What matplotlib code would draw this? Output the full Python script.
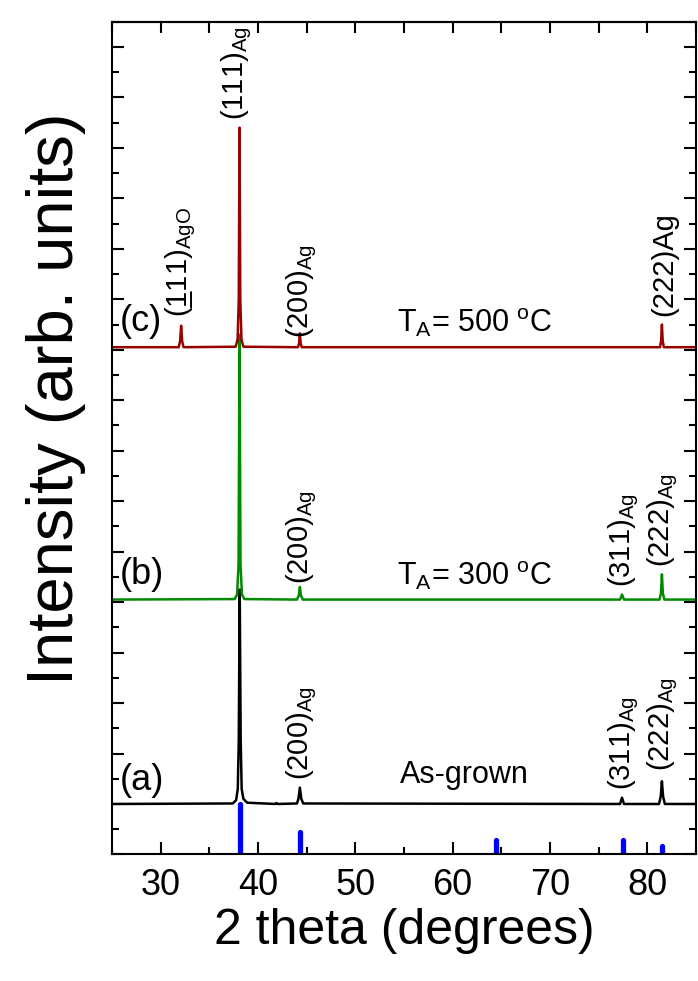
import matplotlib
matplotlib.use('Agg')
import matplotlib.pyplot as plt
from matplotlib.ticker import MultipleLocator, NullFormatter

plt.rcParams.update({
    'font.family': ['Liberation Sans', 'DejaVu Sans'],
    'mathtext.fontset': 'custom',
    'mathtext.rm': 'Liberation Sans',
    'mathtext.it': 'Liberation Sans:italic',
    'mathtext.bf': 'Liberation Sans:bold',
    'axes.linewidth': 1.5,
})

# (a) as-grown
tt_a = [25, 37.4, 37.75, 37.92, 38.02, 38.12, 38.22, 38.32, 38.5, 38.9, 41.8, 41.9, 42.0,
        44.0, 44.15, 44.3, 44.45, 44.65, 77.2, 77.4, 77.6, 81.2, 81.38, 81.5, 81.62, 81.8, 85]
int_a = [2.0, 2.02, 2.15, 2.6, 4.5, 10.5, 4.5, 2.6, 2.2, 2.05, 2.0, 2.04, 2.0,
         2.02, 2.2, 2.65, 2.2, 2.02, 2.0, 2.25, 2.0, 2.0, 2.3, 2.9, 2.3, 2.0, 2.0]

# (b) TA = 300 C
tt_b = [25, 37.6, 37.85, 38.0, 38.1, 38.2, 38.35, 38.6, 44.0, 44.18, 44.3, 44.42, 44.6,
        77.2, 77.4, 77.6, 81.25, 81.4, 81.5, 81.6, 81.75, 85]
int_b = [10.1, 10.12, 10.3, 11.5, 20.6, 11.5, 10.3, 10.12, 10.1, 10.25, 10.6, 10.25, 10.1,
         10.1, 10.3, 10.1, 10.1, 10.35, 11.1, 10.35, 10.1, 10.1]

# (c) TA = 500 C
tt_c = [25, 31.85, 32.0, 32.1, 32.2, 32.35, 37.7, 37.9, 38.02, 38.1, 38.18, 38.3, 38.5,
        44.1, 44.22, 44.3, 44.38, 44.5, 81.3, 81.42, 81.5, 81.58, 81.7, 85]
int_c = [20.1, 20.1, 20.35, 20.95, 20.35, 20.1, 20.12, 20.4, 22.0, 28.8, 22.0, 20.4, 20.12,
         20.1, 20.25, 20.65, 20.25, 20.1, 20.1, 20.35, 21.0, 20.35, 20.1, 20.1]

# reference Ag pattern (bars)
ref_pos = [38.1, 44.3, 64.5, 77.5, 81.5]
ref_h = [2.0, 0.87, 0.56, 0.59, 0.34]

# peak labels: text, x, bottom y
peak_labels = [
    (r'$\mathregular{(111)_{Ag}}$', 37.8, 29.1),
    (r'$\mathregular{(\_\hspace{-0.667}111)_{AgO}}$', 32.1, 21.3),
    (r'$\mathregular{(200)_{Ag}}$', 44.5, 20.45),
    ('(222)Ag', 81.7, 21.35),
    (r'$\mathregular{(200)_{Ag}}$', 44.5, 10.7),
    (r'$\mathregular{(311)_{Ag}}$', 77.6, 10.6),
    (r'$\mathregular{(222)_{Ag}}$', 81.6, 11.4),
    (r'$\mathregular{(200)_{Ag}}$', 44.5, 2.95),
    (r'$\mathregular{(311)_{Ag}}$', 77.6, 2.56),
    (r'$\mathregular{(222)_{Ag}}$', 81.6, 3.3),
]
curve_tags = [('(a)', 25.8, 2.92), ('(b)', 25.8, 11.09), ('(c)', 25.8, 21.13)]
sample_texts = [
    (r'$\mathregular{T_A}$= 500 $\mathregular{^oC}$', 54.3, 20.7),
    (r'$\mathregular{T_A}$= 300 $\mathregular{^oC}$', 54.3, 10.7),
    ('As-grown', 54.6, 2.85),
]

fig = plt.figure(figsize=(6.98, 9.81), dpi=100)
ax = fig.add_axes([0.1605, 0.129, 0.8366, 0.8489])

ax.plot(tt_a, int_a, color='black', lw=1.8)
ax.plot(tt_b, int_b, color='#008a00', lw=1.8)
ax.plot(tt_c, int_c, color='#990000', lw=1.8)
bars = ax.vlines(ref_pos, 0, ref_h, colors='#0000ff', lw=3.8)
bars.set_capstyle('round')

for txt, x, y in peak_labels:
    ax.text(x, y, txt, rotation=90, ha='center', va='bottom', fontsize=21)
for txt, x, y in curve_tags:
    ax.text(x, y, txt, ha='left', va='center', fontsize=26)
for txt, x, y in sample_texts:
    ax.text(x, y, txt, ha='left', va='baseline', fontsize=22)

ax.set_xlim(25, 85)
ax.set_ylim(0, 33)
ax.xaxis.set_major_locator(MultipleLocator(10))
ax.xaxis.set_minor_locator(MultipleLocator(5))
ax.yaxis.set_major_locator(MultipleLocator(2))
ax.yaxis.set_minor_locator(MultipleLocator(1))
ax.yaxis.set_major_formatter(NullFormatter())
ax.tick_params(axis='x', which='major', direction='in', length=8.6, width=1.5,
               labelsize=26, pad=10)
ax.tick_params(axis='x', which='minor', direction='in', length=5, width=1.5)
ax.tick_params(axis='y', which='both', direction='in', left=True, right=True, width=1.5)
ax.tick_params(axis='y', which='major', length=8.6)
ax.tick_params(axis='y', which='minor', length=5)

top = ax.secondary_xaxis('top')
top.set_xticks(list(range(25, 90, 5)))
top.tick_params(direction='in', length=8, width=1.5, labeltop=False)

ax.set_xlabel('2 theta (degrees)', fontsize=36)
ax.set_ylabel('Intensity (arb. units)', fontsize=47)
ax.xaxis.set_label_coords(0.5, -0.064)
ax.yaxis.set_label_coords(-0.0445, 0.547)

fig.savefig('out.png', dpi=100)
